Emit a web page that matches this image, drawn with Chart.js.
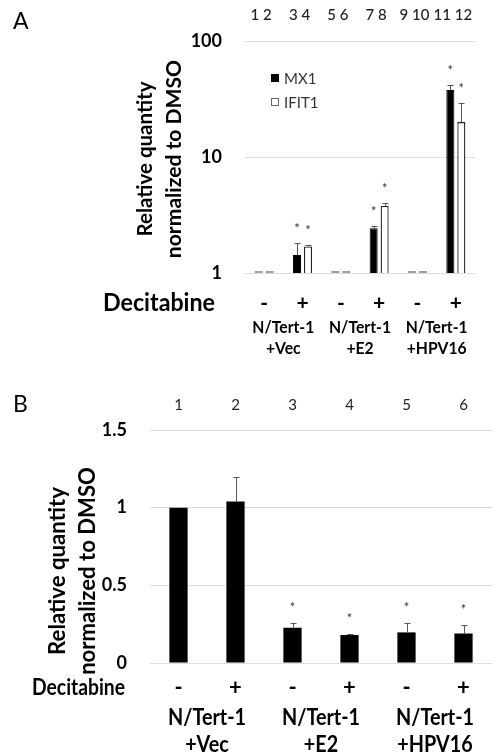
<!DOCTYPE html>
<html>
<head>
<meta charset="utf-8">
<script src="https://cdn.jsdelivr.net/npm/chart.js@4/dist/chart.umd.min.js"></script>
<style>
  html, body { margin: 0; padding: 0; background: #fff; }
  #wrap { position: relative; width: 492px; height: 753px; overflow: hidden; }
  canvas { position: absolute; left: 0; }
</style>
</head>
<body>
<div id="wrap">
  <canvas id="chartA" width="492" height="370" style="top:0"></canvas>
  <canvas id="chartB" width="492" height="383" style="top:370px"></canvas>
</div>
<script>
// ---------------- DATA ----------------
// Panel A (log scale)
const decitabineA = ['-', '+', '-', '+', '-', '+'];
const groupLine1 = ['N/Tert-1', 'N/Tert-1', 'N/Tert-1'];
const groupLine2 = ['+Vec', '+E2', '+HPV16'];
const seriesNamesA = ['MX1', 'IFIT1'];
const mx1 = [1, 1.43, 1, 2.43, 1, 37.8];
const mx1ErrTop = [null, 1.81, null, 2.54, null, 41.8];
const mx1Sig = [false, true, false, true, false, true];
const ifit1 = [1, 1.69, 1, 3.78, 1, 20];
const ifit1ErrTop = [null, 1.74, null, 4.0, null, 29];
const ifit1Sig = [false, true, false, true, false, true];
const laneNumbersA = ['1','2','3','4','5','6','7','8','9','10','11','12'];
const yTicksA = [1, 10, 100];

// Panel B (linear scale)
const decitabineB = ['-', '+', '-', '+', '-', '+'];
const relQtyB = [1, 1.04, 0.227, 0.18, 0.197, 0.19];
const relQtyBErrTop = [null, 1.20, 0.255, 0.185, 0.255, 0.244];
const relQtyBSig = [false, false, true, true, true, true];
const laneNumbersB = ['1','2','3','4','5','6'];
const yTicksB = [0, 0.5, 1, 1.5];

const yTitle1 = 'Relative quantity';
const yTitle2 = 'normalized to DMSO';
const rowLabel = 'Decitabine';

// ---------------- HELPERS ----------------
const FAM = 'Lato, "Open Sans", sans-serif';
function fitSize(ctx, text, width, weight) {
  ctx.save();
  ctx.font = weight + ' 100px ' + FAM;
  const w = ctx.measureText(text).width;
  ctx.restore();
  return 100 * width / w;
}
// draw text at a given font size, squeezed horizontally to a target width
function drawSqueezed(ctx, text, x, y, size, width, align, weight) {
  ctx.save();
  ctx.font = (weight || 'bold') + ' ' + size + 'px ' + FAM;
  const w = ctx.measureText(text).width;
  const sx = width / w;
  ctx.translate(x, y);
  ctx.scale(sx, 1);
  ctx.textAlign = align;
  ctx.textBaseline = 'middle';
  ctx.fillText(text, 0, 0);
  ctx.restore();
}

function overlayPlugin(cfg) {
  return {
    id: 'overlay_' + cfg.name,
    afterDatasetsDraw(chart) {
      const ctx = chart.ctx;
      const xs = chart.scales.x, ys = chart.scales.y;
      ctx.save();
      // error bars + asterisks
      cfg.errs.forEach((errArr, di) => {
        const meta = chart.getDatasetMeta(di);
        meta.data.forEach((el, i) => {
          const e = errArr[i];
          if (e == null) return;
          const yt = Math.round(ys.getPixelForValue(e)) + 0.5;
          const xc = Math.round(el.x) + 0.5;
          ctx.strokeStyle = '#555';
          ctx.lineWidth = 1;
          ctx.beginPath();
          ctx.moveTo(xc, el.y);
          ctx.lineTo(xc, yt);
          ctx.moveTo(xc - cfg.cap, yt);
          ctx.lineTo(xc + cfg.cap, yt);
          ctx.stroke();
          if (cfg.sig[di][i]) {
            ctx.fillStyle = '#333';
            ctx.font = '13px ' + FAM;
            ctx.textAlign = 'center';
            ctx.textBaseline = 'middle';
            ctx.fillText('*', el.x, yt - cfg.starGap);
          }
        });
      });
      // lane numbers on top (one string per category, centred on it)
      ctx.fillStyle = '#222';
      ctx.font = cfg.laneFont;
      ctx.textAlign = 'center';
      ctx.textBaseline = 'middle';
      const nCat = chart.data.labels.length;
      const nDs = chart.data.datasets.length;
      for (let i = 0; i < nCat; i++) {
        const parts = [];
        for (let d = 0; d < nDs; d++) parts.push(cfg.lanes[i * nDs + d]);
        ctx.fillText(parts.join(' '), xs.getPixelForValue(i) + cfg.laneShift, cfg.laneY);
      }
      // Decitabine row
      ctx.fillStyle = '#000';
      drawSqueezed(ctx, rowLabel, cfg.decX, cfg.rowY, cfg.decSize, cfg.decW, 'left');
      ctx.font = 'bold ' + cfg.signSize + 'px ' + FAM;
      ctx.textAlign = 'center';
      ctx.textBaseline = 'middle';
      chart.data.labels.forEach((lab, i) => {
        ctx.fillText(lab, xs.getPixelForValue(i), cfg.rowY);
      });
      // group labels
      for (let g = 0; g < groupLine1.length; g++) {
        const gx = (xs.getPixelForValue(2 * g) + xs.getPixelForValue(2 * g + 1)) / 2;
        drawSqueezed(ctx, groupLine1[g], gx, cfg.g1Y, cfg.groupSize, cfg.groupW, 'center');
        ctx.font = 'bold ' + cfg.groupSize + 'px ' + FAM;
        const w2 = ctx.measureText(groupLine2[g]).width * cfg.groupW / ctx.measureText(groupLine1[g]).width;
        drawSqueezed(ctx, groupLine2[g], gx, cfg.g2Y, cfg.groupSize, w2, 'center');
      }
      // y-axis title (two rotated lines)
      const t1 = fitSize(ctx, yTitle1, cfg.t1W, 'bold');
      const t2 = fitSize(ctx, yTitle2, cfg.t2W, 'bold');
      ctx.save();
      ctx.translate(cfg.t1X, cfg.tY);
      ctx.rotate(-Math.PI / 2);
      ctx.font = 'bold ' + t1.toFixed(1) + 'px ' + FAM;
      ctx.fillText(yTitle1, 0, 0);
      ctx.restore();
      ctx.save();
      ctx.translate(cfg.t2X, cfg.tY);
      ctx.rotate(-Math.PI / 2);
      ctx.font = 'bold ' + t2.toFixed(1) + 'px ' + FAM;
      ctx.fillText(yTitle2, 0, 0);
      ctx.restore();
      // panel letter
      ctx.font = '23px ' + FAM;
      ctx.textAlign = 'left';
      ctx.fillText(cfg.letter, 13, cfg.letterY);
      // legend (panel A only)
      if (cfg.legend) {
        chart.data.datasets.forEach((ds, d) => {
          const ly = cfg.legend.y + d * cfg.legend.dy;
          ctx.fillStyle = ds.legendFill;
          ctx.fillRect(cfg.legend.x, ly - 4, 8, 8);
          ctx.strokeStyle = ds.legendStroke;
          ctx.lineWidth = 1;
          ctx.strokeRect(cfg.legend.x + 0.5, ly - 3.5, 7, 7);
          ctx.fillStyle = '#333';
          ctx.font = '15px ' + FAM;
          ctx.textAlign = 'left';
          ctx.fillText(ds.label, cfg.legend.x + 13, ly + 1);
        });
      }
      ctx.restore();
    }
  };
}

Chart.defaults.font.family = FAM;
Chart.defaults.color = '#000';

// ---------------- CHART A ----------------
const ctrlColor = (fill) => (c) => (c.raw === 1 ? '#a0a0a0' : fill);
new Chart(document.getElementById('chartA'), {
  type: 'bar',
  data: {
    labels: decitabineA,
    datasets: [
      { label: seriesNamesA[0], data: mx1, backgroundColor: ctrlColor('#000'),
        borderColor: '#000', borderWidth: (c) => (c.raw === 1 ? 0 : 1),
        legendFill: '#000', legendStroke: '#000' },
      { label: seriesNamesA[1], data: ifit1, backgroundColor: ctrlColor('#fff'),
        borderColor: '#222', borderWidth: (c) => (c.raw === 1 ? 0 : 1.3),
        legendFill: '#fff', legendStroke: '#666' }
    ]
  },
  options: {
    responsive: false,
    animation: false,
    devicePixelRatio: 1,
    minBarLength: 2,
    categoryPercentage: 0.574,
    barPercentage: 0.73,
    layout: { padding: { left: 0, right: 17, top: 41, bottom: 97 } },
    plugins: { legend: { display: false }, tooltip: { enabled: false } },
    scales: {
      x: { display: false },
      y: {
        type: 'logarithmic', min: 1, max: 100,
        afterBuildTicks: (s) => { s.ticks = yTicksA.map(v => ({ value: v })); },
        afterFit: (s) => { s.width = 245; },
        ticks: { callback: (v) => String(v), padding: 23, font: { size: 18, weight: 'bold' }, color: '#000' },
        grid: { color: '#dedede', drawTicks: false },
        border: { display: false }
      }
    }
  },
  plugins: [overlayPlugin({
    name: 'A', errs: [mx1ErrTop, ifit1ErrTop], sig: [mx1Sig, ifit1Sig],
    cap: 3, starGap: 15, lanes: laneNumbersA, laneY: 15, laneFont: '500 15px ' + FAM, laneShift: -3,
    decSize: 24, decW: 112, decX: 103, rowY: 303, signSize: 21,
    groupSize: 17, groupW: 62, g1Y: 328, g2Y: 349,
    t1W: 155, t2W: 198, t1X: 145, t2X: 174, tY: 159,
    letter: 'A', letterY: 22,
    legend: { x: 271, y: 78, dy: 24 }
  })]
});

// ---------------- CHART B ----------------
new Chart(document.getElementById('chartB'), {
  type: 'bar',
  data: {
    labels: decitabineB,
    datasets: [
      { label: 'Relative quantity', data: relQtyB, backgroundColor: '#000', borderWidth: 0 }
    ]
  },
  options: {
    responsive: false,
    animation: false,
    devicePixelRatio: 1,
    categoryPercentage: 0.8,
    barPercentage: 0.4,
    layout: { padding: { left: 0, right: 0, top: 60, bottom: 90 } },
    plugins: { legend: { display: false }, tooltip: { enabled: false } },
    scales: {
      x: { display: false },
      y: {
        type: 'linear', min: 0, max: 1.5,
        afterBuildTicks: (s) => { s.ticks = yTicksB.map(v => ({ value: v })); },
        afterFit: (s) => { s.width = 150; },
        ticks: { callback: (v) => String(v), padding: 23, font: { size: 18, weight: 'bold' }, color: '#000' },
        grid: { color: '#dedede', drawTicks: false },
        border: { display: false }
      }
    }
  },
  plugins: [overlayPlugin({
    name: 'B', errs: [relQtyBErrTop], sig: [relQtyBSig],
    cap: 3, starGap: 16, lanes: laneNumbersB, laneY: 35, laneFont: '15px ' + FAM, laneShift: 0,
    decSize: 23, decW: 93, decX: 32, rowY: 318, signSize: 22,
    groupSize: 22, groupW: 78, g1Y: 348, g2Y: 375,
    t1W: 168, t2W: 208, t1X: 58, t2X: 88, tY: 201,
    letter: 'B', letterY: 35,
    legend: null
  })]
});
</script>
</body>
</html>
